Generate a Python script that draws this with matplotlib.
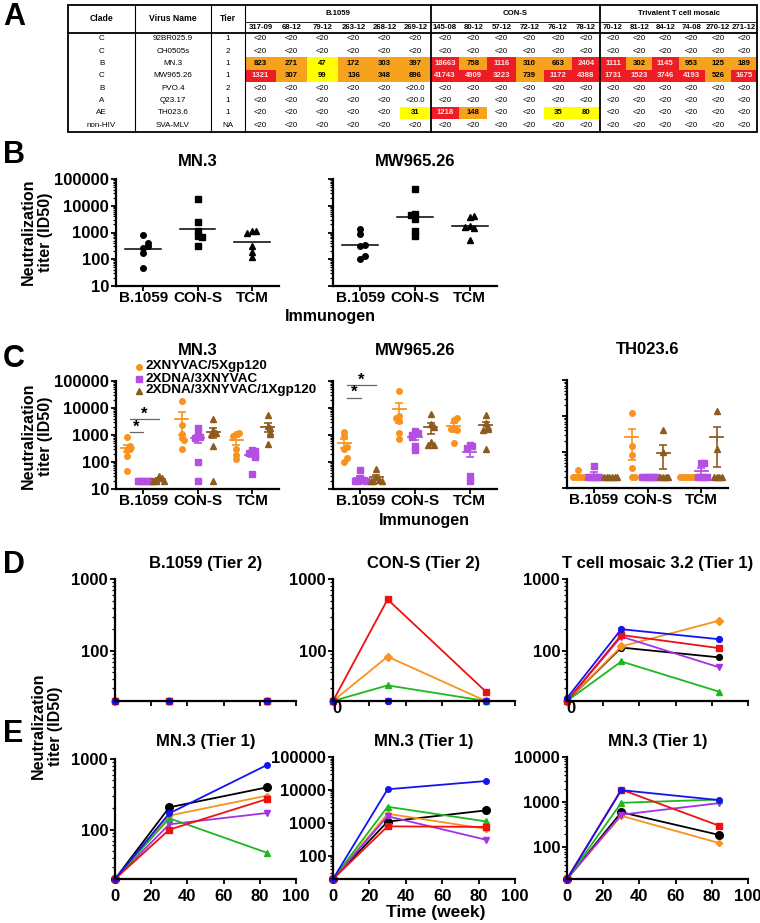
import numpy as np
import matplotlib
matplotlib.use("Agg")
import matplotlib.pyplot as plt
from matplotlib.patches import Rectangle
from matplotlib.ticker import LogLocator, FuncFormatter, NullFormatter

plt.rcParams["font.family"] = ["Liberation Sans", "DejaVu Sans"]
plt.rcParams["font.weight"] = "bold"

# === Panel A: neutralization titers per animal ===
clades = ["C", "C", "B", "C", "B", "A", "AE", "non-HIV"]
viruses = ["92BR025.9", "CH0505s", "MN.3", "MW965.26", "PVO.4", "Q23.17", "TH023.6", "SVA-MLV"]
tiers = ["1", "2", "1", "1", "2", "1", "1", "NA"]
vaccine_groups = ["B.1059", "CON-S", "Trivalent T cell mosaic"]
animal_ids = [
    ["317-09", "68-12", "79-12", "263-12", "268-12", "269-12"],
    ["145-08", "80-12", "57-12", "72-12", "76-12", "78-12"],
    ["70-12", "81-12", "84-12", "74-08", "270-12", "271-12"],
]
LT = "<20"
titers = [
    [LT] * 18,
    [LT] * 18,
    ["823", "271", "47", "172", "303", "397", "18663", "758", "1116", "310", "663", "2404",
     "1111", "302", "1145", "953", "125", "189"],
    ["1321", "307", "99", "136", "348", "896", "41743", "4909", "3223", "739", "1172", "4388",
     "1731", "1523", "3746", "4193", "526", "1675"],
    [LT] * 5 + ["<20.0"] + [LT] * 12,
    [LT] * 5 + ["<20.0"] + [LT] * 12,
    [LT] * 5 + ["31", "1218", "148", LT, LT, "35", "80"] + [LT] * 6,
    [LT] * 18,
]

# === Panel C: DNA-primed regimens (NYVAC/gp120 group comes from the table) ===
immunogens = ["B.1059", "CON-S", "TCM"]
regimens = ["2XNYVAC/5Xgp120", "2XDNA/3XNYVAC", "2XDNA/3XNYVAC/1Xgp120"]
dna_nyvac_mn3 = [[20, 20, 20, 20, 20, 20], [1750, 1000, 850, 750, 100, 20], [270, 250, 220, 170, 150, 37]]
dna_nyvac_gp_mn3 = [[31, 25, 22, 20, 20, 20], [3800, 1500, 1200, 1100, 400, 20], [5500, 2200, 1800, 1300, 1100, 470]]
dna_nyvac_mw = [[50, 25, 22, 20, 20, 20], [1400, 1200, 1000, 870, 400, 280], [420, 380, 330, 30, 20]]
dna_nyvac_gp_mw = [[55, 28, 22, 20, 20, 20], [5900, 2500, 2000, 550, 430, 420], [5500, 2700, 2000, 1700, 1500, 300]]
dna_nyvac_th = [[41, 20, 20, 20, 20, 20], [20, 20, 20, 20, 20, 20], [50, 48, 20, 20, 20, 20]]
dna_nyvac_gp_th = [[20, 20, 20, 20, 20, 20], [400, 100, 20, 20, 20, 20], [1400, 120, 20, 20, 20, 20]]

# === Panels D/E: time course, one line per animal (table column order) ===
weeks = [0, 30, 84]
d_titles = ["B.1059 (Tier 2)", "CON-S (Tier 2)", "T cell mosaic 3.2 (Tier 1)"]
d_b1059 = [[20, 20, 20]] * 6
d_cons = [[20, 20, 20], [20, 520, 27], [20, 33, 20], [20, 20, 20], [20, 83, 20], [20, 20, 20]]
d_tcm = [[22, 200, 145], [20, 166, 109], [20, 71, 27], [20, 158, 59], [20, 115, 263], [20, 111, 81]]
e_week0 = 20
e_week30 = [[170, 100, 145, 119, 158, 207],
            [10500, 790, 3100, 1600, 1900, 1100],
            [1850, 1900, 970, 530, 500, 600]]

W, H = 760, 923
ORANGE, RED, YELLOW = "#F7A21C", "#EE1C24", "#FFFF00"
reg_colors = ["#F7931E", "#B44FE2", "#8E5B1F"]
reg_markers = ["o", "s", "^"]
reg_offsets = [-0.29, 0.0, 0.29]
animal_colors = ["#1414F0", "#EE1111", "#1EB81E", "#A431E6", "#F7931E", "#000000"]
animal_markers = ["o", "s", "^", "v", "D", "o"]
animal_ms = [4, 4, 4, 4, 3.2, 5.5]


def box(x0, y0, x1, y1):
    return [x0 / W, 1 - y1 / H, (x1 - x0) / W, (y1 - y0) / H]


def to_num(s):
    return 20.0 if s.startswith("<") else float(s)


def row_groups(name):
    vals = np.array([to_num(s) for s in titers[viruses.index(name)]])
    return [list(vals[0:6]), list(vals[6:12]), list(vals[12:18])]


def swarm(vals, step, tol=0.15):
    lv = np.log10(np.asarray(vals, float))
    offs = []
    for i in range(len(lv)):
        n = int(np.sum(np.abs(lv[:i] - lv[i]) < tol))
        offs.append(((n + 1) // 2) * step * (1 if n % 2 else -1))
    return np.array(offs)


def style(ax, lo, hi, ylabels=True):
    ax.set_facecolor("none")
    for s in ("top", "right"):
        ax.spines[s].set_visible(False)
    for s in ("left", "bottom"):
        ax.spines[s].set_linewidth(1.6)
    ax.set_yscale("log")
    ax.set_ylim(lo, hi)
    ax.yaxis.set_major_locator(LogLocator(base=10, numticks=12))
    ax.yaxis.set_minor_locator(LogLocator(base=10, subs=np.arange(2, 10), numticks=12))
    ax.yaxis.set_minor_formatter(NullFormatter())
    if ylabels:
        ax.yaxis.set_major_formatter(FuncFormatter(lambda v, p: f"{int(round(v))}"))
    else:
        ax.yaxis.set_major_formatter(NullFormatter())
    ax.tick_params(which="major", length=3.5, width=1.3, labelsize=12, pad=1.5)
    ax.tick_params(which="minor", length=2, width=0.9)


def category_x(ax):
    ax.set_xlim(0.5, 3.5)
    ax.set_xticks([1, 2, 3])
    ax.set_xticklabels(immunogens)
    ax.tick_params(axis="x", pad=0, labelsize=11)


fig = plt.figure(figsize=(7.6, 9.23), dpi=100)
pix = fig.add_axes([0, 0, 1, 1])
pix.set_xlim(0, W)
pix.set_ylim(H, 0)
pix.axis("off")

# === Panel A: draw table ===
tx0, tx1, ty0, ty1 = 68, 757, 5, 131.5
hy_mid, hy_bot = 21.7, 32.5
fixed_edges = [68, 135, 211, 245]
grp_edges = [245, 431, 600, 757]
col_edges = [np.linspace(grp_edges[g], grp_edges[g + 1], 7) for g in range(3)]
row_h = (ty1 - hy_bot) / len(viruses)

for r in range(len(viruses)):
    yc = hy_bot + (r + 0.5) * row_h
    for ci, txt in enumerate([clades[r], viruses[r], tiers[r]]):
        pix.text((fixed_edges[ci] + fixed_edges[ci + 1]) / 2, yc, txt, ha="center", va="center",
                 fontsize=5.8, fontweight="normal")
    for c, s in enumerate(titers[r]):
        g, k = divmod(c, 6)
        x0, x1 = col_edges[g][k], col_edges[g][k + 1]
        v = to_num(s)
        fc, tc, fw = None, "black", "normal"
        if not s.startswith("<"):
            fw = "bold"
            fc = RED if v >= 1000 else (ORANGE if v >= 100 else YELLOW)
            if v >= 1000:
                tc = "#FFE4E4"
        if fc:
            pix.add_patch(Rectangle((x0, hy_bot + r * row_h), x1 - x0, row_h, color=fc, lw=0))
        pix.text((x0 + x1) / 2, yc, s, ha="center", va="center", fontsize=5.6, fontweight=fw, color=tc)

for ci, txt in enumerate(["Clade", "Virus Name", "Tier"]):
    pix.text((fixed_edges[ci] + fixed_edges[ci + 1]) / 2, (ty0 + hy_bot) / 2, txt,
             ha="center", va="center", fontsize=6.2)
for g in range(3):
    pix.text((grp_edges[g] + grp_edges[g + 1]) / 2, (ty0 + hy_mid) / 2, vaccine_groups[g],
             ha="center", va="center", fontsize=5.6)
    for k in range(6):
        pix.text((col_edges[g][k] + col_edges[g][k + 1]) / 2, (hy_mid + hy_bot) / 2, animal_ids[g][k],
                 ha="center", va="center", fontsize=5.6)

pix.add_patch(Rectangle((tx0, ty0), tx1 - tx0, ty1 - ty0, fill=False, lw=1.3, ec="black"))
for x in fixed_edges[1:]:
    pix.plot([x, x], [ty0, ty1], color="black", lw=0.8)
for x in grp_edges[1:3]:
    pix.plot([x, x], [ty0, ty1], color="black", lw=1.3)
pix.plot([245, tx1], [hy_mid, hy_mid], color="black", lw=0.6)
pix.plot([tx0, tx1], [hy_bot, hy_bot], color="black", lw=1.3)

# panel letters
for letter, yb in zip("ABCDE", [25, 163, 367, 573, 742]):
    pix.text(3, yb, letter, fontsize=22, fontweight="bold", va="baseline", ha="left")

# === Panel B ===
b_viruses = ["MN.3", "MW965.26"]
b_boxes = [box(116, 179, 279, 286), box(333, 179, 497, 286)]
for i, (vname, bx) in enumerate(zip(b_viruses, b_boxes)):
    ax = fig.add_axes(bx)
    style(ax, 10, 1e5, ylabels=(i == 0))
    for gi, vals in enumerate(row_groups(vname)):
        vals = np.array(vals)
        ax.plot(gi + 1 + swarm(vals, 0.08), vals, ls="none", marker=reg_markers[gi], ms=4,
                color="black", clip_on=False)
        gm = 10 ** np.mean(np.log10(vals))
        ax.plot([gi + 1 - 0.33, gi + 1 + 0.33], [gm, gm], color="black", lw=1.1)
    category_x(ax)
    ax.set_title(vname, fontsize=12, fontweight="bold", pad=9.4)

fig.text(330 / W, 1 - 317 / H, "Immunogen", ha="center", va="center", fontsize=11.5, fontweight="bold")
for yc in [232, 436]:
    fig.text(37 / W, 1 - yc / H, "Neutralization\ntiter (ID50)", rotation=90, ha="center", va="center",
             fontsize=11.5, fontweight="bold", linespacing=1.15)

# === Panel C ===
c_viruses = ["MN.3", "MW965.26", "TH023.6"]
c_boxes = [box(116, 381, 279, 489), box(333, 381, 497, 489), box(567, 380, 728, 488)]
c_ylims = [(10, 1e5), (10, 1e5), (10, 1e4)]
c_sets = [
    [row_groups("MN.3"), dna_nyvac_mn3, dna_nyvac_gp_mn3],
    [row_groups("MW965.26"), dna_nyvac_mw, dna_nyvac_gp_mw],
    [row_groups("TH023.6"), dna_nyvac_th, dna_nyvac_gp_th],
]
c_axes = []
for i in range(3):
    ax = fig.add_axes(c_boxes[i])
    c_axes.append(ax)
    style(ax, *c_ylims[i], ylabels=(i == 0))
    for ri in range(3):
        for gi in range(3):
            v = np.array(c_sets[i][ri][gi], float)
            xc = gi + 1 + reg_offsets[ri]
            ax.plot(xc + swarm(v, 0.05), v, ls="none", marker=reg_markers[ri], ms=4,
                    color=reg_colors[ri], clip_on=False, zorder=3)
            m = v.mean()
            se = v.std(ddof=1) / np.sqrt(len(v))
            ax.plot([xc - 0.12, xc + 0.12], [m, m], color=reg_colors[ri], lw=1.3, zorder=4)
            ax.errorbar([xc], [m], yerr=[[min(se, m * 0.99)], [se]], fmt="none", ecolor=reg_colors[ri],
                        elinewidth=1.2, capsize=2.6, capthick=1.2, zorder=4)
    category_x(ax)
    ax.set_title(c_viruses[i], fontsize=12, fontweight="bold", pad=18.5)

fig.text(424 / W, 1 - 520 / H, "Immunogen", ha="center", va="center", fontsize=11.5, fontweight="bold")

# significance bars
sig = [(c_axes[0], [(1.0, 1300), (1.29, 3900)]), (c_axes[1], [(1.01, 24000), (1.29, 71000)])]
for ax, bars in sig:
    for x_end, yv in bars:
        ax.plot([0.75, x_end], [yv, yv], color="#666666", lw=0.9, clip_on=False)
        ax.text((0.75 + x_end) / 2, yv * 1.05, "*", ha="center", va="baseline", fontsize=12,
                fontweight="bold")

# legend for regimens
for ri, name in enumerate(regimens):
    y = 366.5 + 12 * ri
    pix.plot([139], [y], ls="none", marker=reg_markers[ri], ms=4, color=reg_colors[ri])
    pix.text(145, y, name, ha="left", va="center", fontsize=9.7, fontweight="bold")

# === Panels D and E ===
d_boxes = [box(115, 579, 296, 701), box(333, 579, 515, 701), box(567, 579, 748, 701)]
e_boxes = [box(115, 759, 296, 879), box(333, 757, 515, 879), box(567, 757, 748, 879)]
e_tops = [1000, 1e5, 1e4]
d_sets = [d_b1059, d_cons, d_tcm]
mn3_final = row_groups("MN.3")

for i in range(3):
    ax = fig.add_axes(d_boxes[i])
    style(ax, 20, 1000)
    for k in reversed(range(6)):
        ax.plot(weeks, d_sets[i][k], color=animal_colors[k], marker=animal_markers[k], ms=4.2,
                lw=1.3, clip_on=False)
    ax.set_xlim(0, 100)
    ax.set_xticks(range(0, 101, 20))
    ax.set_xticklabels([])
    ax.set_title(d_titles[i], fontsize=12, fontweight="bold", pad=8)
    if i > 0:
        ax.text(2, 20, "0", transform=ax.transData, ha="center", va="top", fontsize=12,
                fontweight="bold")

    ax = fig.add_axes(e_boxes[i])
    style(ax, 20, e_tops[i])
    for k in reversed(range(6)):
        ax.plot(weeks, [e_week0, e_week30[i][k], mn3_final[i][k]], color=animal_colors[k],
                marker=animal_markers[k], ms=animal_ms[k], lw=1.3, clip_on=False)
    ax.set_xlim(0, 100)
    ax.set_xticks(range(0, 101, 20))
    ax.tick_params(axis="x", pad=3.5)
    ax.set_title("MN.3 (Tier 1)", fontsize=12, fontweight="bold", pad=9.4 if i == 0 else 8)

fig.text(47 / W, 1 - 726 / H, "Neutralization\ntiter (ID50)", rotation=90, ha="center", va="center",
         fontsize=11.5, fontweight="bold", linespacing=1.15)
fig.text(436 / W, 1 - 913 / H, "Time (week)", ha="center", va="center", fontsize=12.5, fontweight="bold")

fig.savefig("out.png", dpi=100)
